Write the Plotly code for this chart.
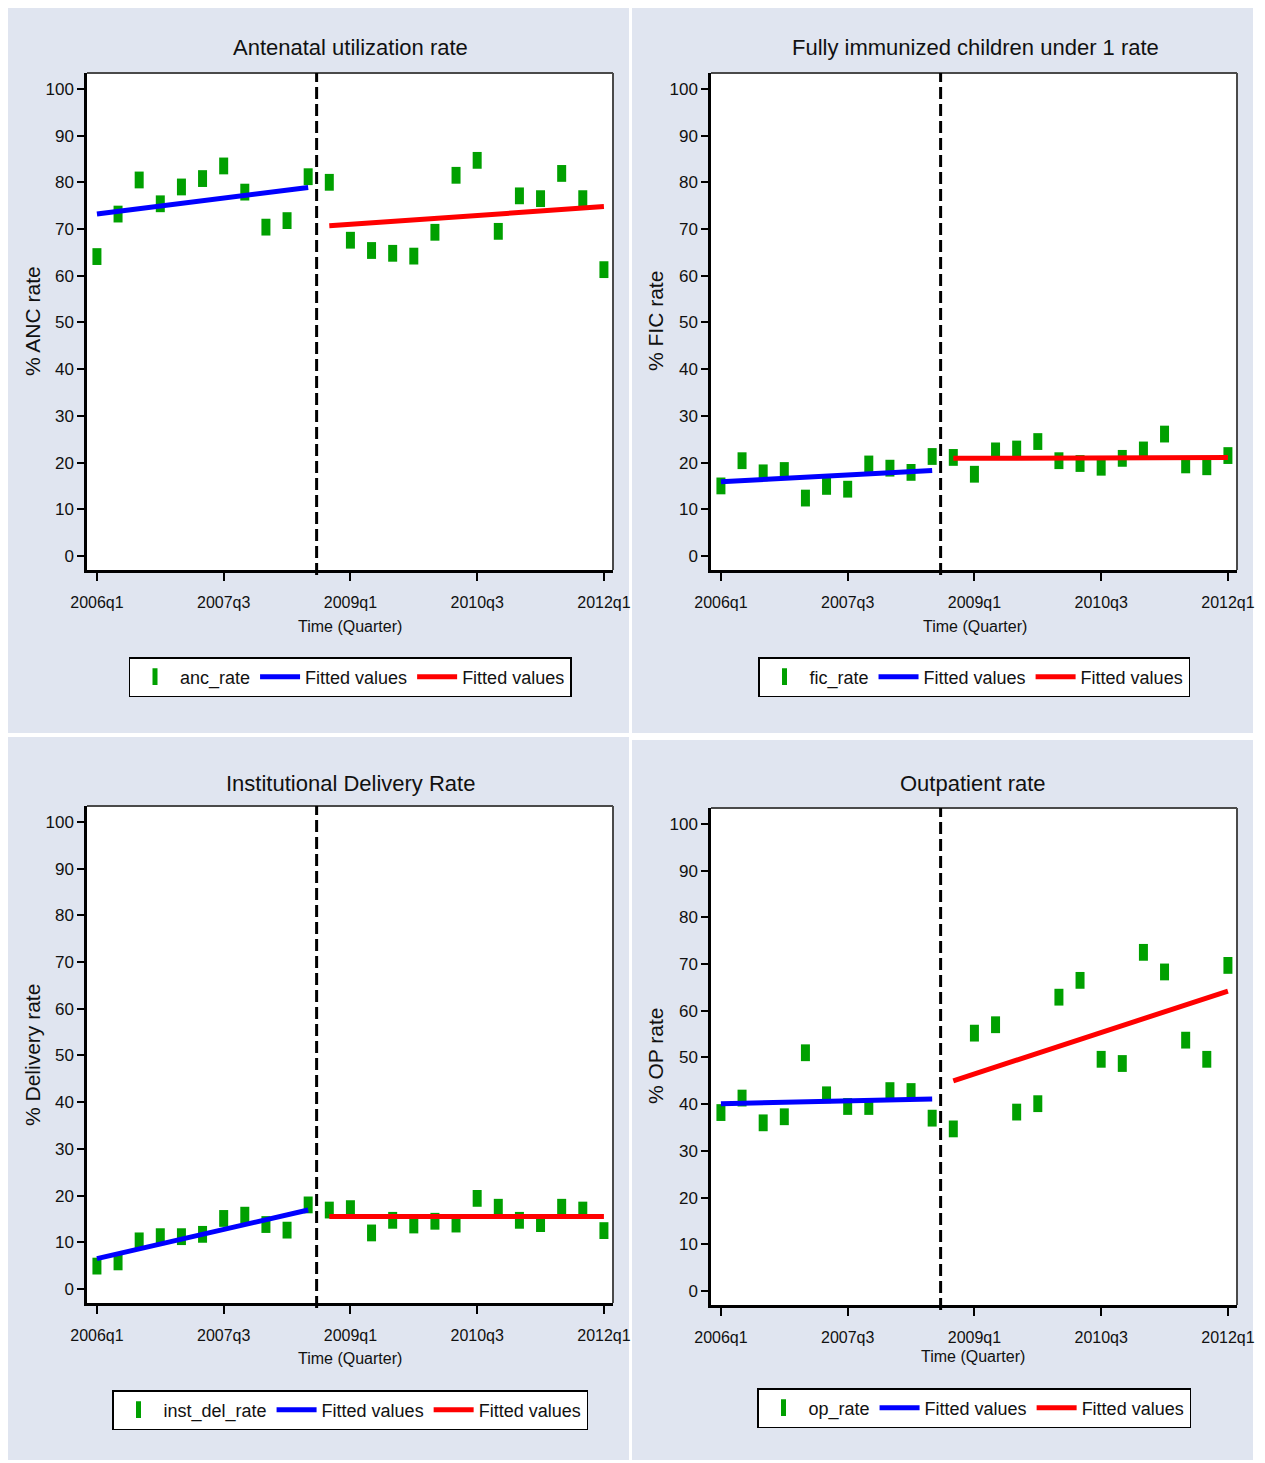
import plotly.graph_objects as go

# ---------------- data ----------------
quarters = ["2006q1", "2006q2", "2006q3", "2006q4", "2007q1", "2007q2", "2007q3", "2007q4",
            "2008q1", "2008q2", "2008q3", "2008q4", "2009q1", "2009q2", "2009q3", "2009q4",
            "2010q1", "2010q2", "2010q3", "2010q4", "2011q1", "2011q2", "2011q3", "2011q4",
            "2012q1"]
tick_labels = ["2006q1", "2007q3", "2009q1", "2010q3", "2012q1"]
pre_count = 11          # 2006q1 .. 2008q3 are before the intervention
break_x = 10.4          # intervention line (quarter index)

anc_rate = [64.1, 73.2, 80.5, 75.4, 79.0, 80.8, 83.5, 77.9, 70.4, 71.8, 81.2,
            80.0, 67.6, 65.4, 64.8, 64.2, 69.3, 81.5, 84.7, 69.5, 77.1, 76.5, 81.9, 76.5, 61.3]
anc_fit_pre = [73.2, 78.9]
anc_fit_post = [70.7, 74.8]

fic_rate = [15.0, 20.4, 17.8, 18.3, 12.4, 14.9, 14.3, 19.7, 18.8, 17.9, 21.3,
            21.1, 17.5, 22.5, 22.9, 24.5, 20.4, 19.8, 19.0, 20.9, 22.7, 26.1, 19.5, 19.1, 21.5]
fic_fit_pre = [15.9, 18.3]
fic_fit_post = [20.9, 21.1]

inst_del_rate = [4.9, 5.8, 10.3, 11.2, 11.2, 11.7, 15.1, 15.8, 13.8, 12.6, 18.0,
                 16.9, 17.2, 12.0, 14.7, 13.7, 14.5, 13.9, 19.4, 17.5, 14.7, 14.0, 17.5, 16.9, 12.5]
del_fit_pre = [6.5, 16.9]
del_fit_post = [15.5, 15.5]

op_rate = [38.2, 41.3, 36.0, 37.3, 51.0, 42.0, 39.5, 39.5, 42.9, 42.7, 37.0,
           34.7, 55.2, 57.0, 38.3, 40.1, 62.9, 66.5, 49.6, 48.7, 72.5, 68.3, 53.7, 49.6, 69.7]
op_fit_pre = [40.1, 41.1]
op_fit_post = [45.0, 64.2]

panel_titles = ["Antenatal utilization rate", "Fully immunized children under 1 rate",
                "Institutional Delivery Rate", "Outpatient rate"]
y_titles = ["% ANC rate", "% FIC rate", "% Delivery rate", "% OP rate"]
series_names = ["anc_rate", "fic_rate", "inst_del_rate", "op_rate"]
x_title = "Time (Quarter)"
y_ticks = [0, 10, 20, 30, 40, 50, 60, 70, 80, 90, 100]

series = [anc_rate, fic_rate, inst_del_rate, op_rate]
fits_pre = [anc_fit_pre, fic_fit_pre, del_fit_pre, op_fit_pre]
fits_post = [anc_fit_post, fic_fit_post, del_fit_post, op_fit_post]

# ---------------- styling / layout ----------------
W, H = 1265, 1463
PAGE_OFFSET = 8          # default page margin of the html body
FONT = "Liberation Sans, Arial, sans-serif"
GREEN, BLUE, RED = "#00a000", "#0000ff", "#ff0000"
BG = "#e0e5f0"
TXT = "#111111"
FRAME_GRAY = "#4a4a4a"

# plot frames in screen pixels: (left, top, right, bottom)
frames = [(87, 73, 613, 570), (711, 73, 1237, 570),
          (87, 806, 613, 1303), (711, 808, 1237, 1305)]
# panel background boxes in screen pixels
panels_px = [(6, 4, 629, 733), (632, 4, 1253, 733),
             (6, 737, 629, 1460), (632, 740, 1253, 1460)]
title_pos = [(350, 48), (975, 48), (350, 783), (973, 783)]
xtitle_pos = [(350, 626), (975, 626), (350, 1358), (973, 1356)]
ytitle_pos = [(32, 321), (655, 321), (32, 1055), (655, 1056)]
legend_pos = [(350, 677), (974, 677), (350, 1410), (974, 1408)]

def px_x(v):
    return (v - PAGE_OFFSET) / W

def px_y(v):
    return 1 - (v - PAGE_OFFSET) / H

x_idx = list(range(len(quarters)))
tick_vals = [quarters.index(t) for t in tick_labels]

fig = go.Figure()
bg_shapes = []
plot_shapes = []
annotations = []
layout = {}

for i in range(4):
    sfx = "" if i == 0 else str(i + 1)
    xref, yref = "x" + sfx, "y" + sfx
    leg = "legend" + sfx
    vals = series[i]

    fig.add_trace(go.Scatter(
        x=x_idx, y=vals, mode="markers", name=series_names[i],
        xaxis=xref, yaxis=yref, legend=leg,
        marker=dict(symbol="line-ns", size=12, color=GREEN,
                    line=dict(width=9, color=GREEN))))
    fig.add_trace(go.Scatter(
        x=[x_idx[0], x_idx[pre_count - 1]], y=fits_pre[i], mode="lines",
        name="Fitted values", xaxis=xref, yaxis=yref, legend=leg,
        line=dict(color=BLUE, width=5)))
    fig.add_trace(go.Scatter(
        x=[x_idx[pre_count], x_idx[-1]], y=fits_post[i], mode="lines",
        name="Fitted values", xaxis=xref, yaxis=yref, legend=leg,
        line=dict(color=RED, width=5)))

    l, t, r, b = frames[i]
    layout["xaxis" + sfx] = dict(
        domain=[px_x(l), px_x(r)], anchor=yref, range=[-0.47, 24.43],
        tickmode="array", tickvals=tick_vals, ticktext=tick_labels,
        ticks="outside", ticklen=8, tickwidth=1.5, tickcolor="black",
        ticklabelstandoff=8,
        showline=True, linecolor="black", linewidth=2.5, mirror=False,
        showgrid=False, zeroline=False, automargin=False,
        tickfont=dict(family=FONT, size=16, color=TXT))
    layout["yaxis" + sfx] = dict(
        domain=[px_y(b), px_y(t)], anchor=xref, range=[-3, 103.4],
        tickmode="array", tickvals=y_ticks,
        ticks="outside", ticklen=7, tickwidth=1.5, tickcolor="black",
        showline=True, linecolor="black", linewidth=2.5, mirror=False,
        showgrid=False, zeroline=False, automargin=False,
        tickfont=dict(family=FONT, size=17, color=TXT))

    pl, pt, pr, pb = panels_px[i]
    bg_shapes.append(dict(type="rect", xref="paper", yref="paper",
                          x0=px_x(pl), x1=px_x(pr), y0=px_y(pb), y1=px_y(pt),
                          fillcolor=BG, line=dict(width=0), layer="below"))
    # white plotting region
    plot_shapes.append(dict(type="rect", xref=xref + " domain", yref=yref + " domain",
                            x0=0, x1=1, y0=0, y1=1,
                            fillcolor="white", line=dict(width=0), layer="below"))
    # top and right frame edges
    plot_shapes.append(dict(type="line", xref=xref + " domain", yref=yref + " domain",
                            x0=0, x1=1, y0=1, y1=1,
                            line=dict(color=FRAME_GRAY, width=2), layer="above"))
    plot_shapes.append(dict(type="line", xref=xref + " domain", yref=yref + " domain",
                            x0=1, x1=1, y0=0, y1=1,
                            line=dict(color=FRAME_GRAY, width=2), layer="above"))
    plot_shapes.append(dict(type="line", xref=xref, yref=yref + " domain",
                            x0=break_x, x1=break_x, y0=-0.01, y1=1,
                            line=dict(color="black", width=3, dash="12px,5px"),
                            layer="above"))

    tx, ty = title_pos[i]
    annotations.append(dict(text=panel_titles[i], x=px_x(tx), y=px_y(ty),
                            xref="paper", yref="paper", showarrow=False,
                            xanchor="center", yanchor="middle",
                            font=dict(family=FONT, size=22, color=TXT)))
    tx, ty = xtitle_pos[i]
    annotations.append(dict(text=x_title, x=px_x(tx), y=px_y(ty),
                            xref="paper", yref="paper", showarrow=False,
                            xanchor="center", yanchor="middle",
                            font=dict(family=FONT, size=16, color=TXT)))
    tx, ty = ytitle_pos[i]
    annotations.append(dict(text=y_titles[i], x=px_x(tx), y=px_y(ty),
                            xref="paper", yref="paper", showarrow=False,
                            textangle=-90, xanchor="center", yanchor="middle",
                            font=dict(family=FONT, size=21, color=TXT)))

    lx, ly = legend_pos[i]
    layout[leg] = dict(orientation="h", x=px_x(lx), y=px_y(ly),
                       xanchor="center", yanchor="middle",
                       bgcolor="white", bordercolor="black", borderwidth=1.5,
                       font=dict(family=FONT, size=18, color=TXT),
                       itemwidth=40, tracegroupgap=0)

fig.update_layout(
    width=W, height=H, margin=dict(l=0, r=0, t=0, b=0, pad=0),
    autosize=False,
    paper_bgcolor="white", plot_bgcolor="white",
    shapes=bg_shapes + plot_shapes, annotations=annotations, **layout)

fig.write_html("out.html")
